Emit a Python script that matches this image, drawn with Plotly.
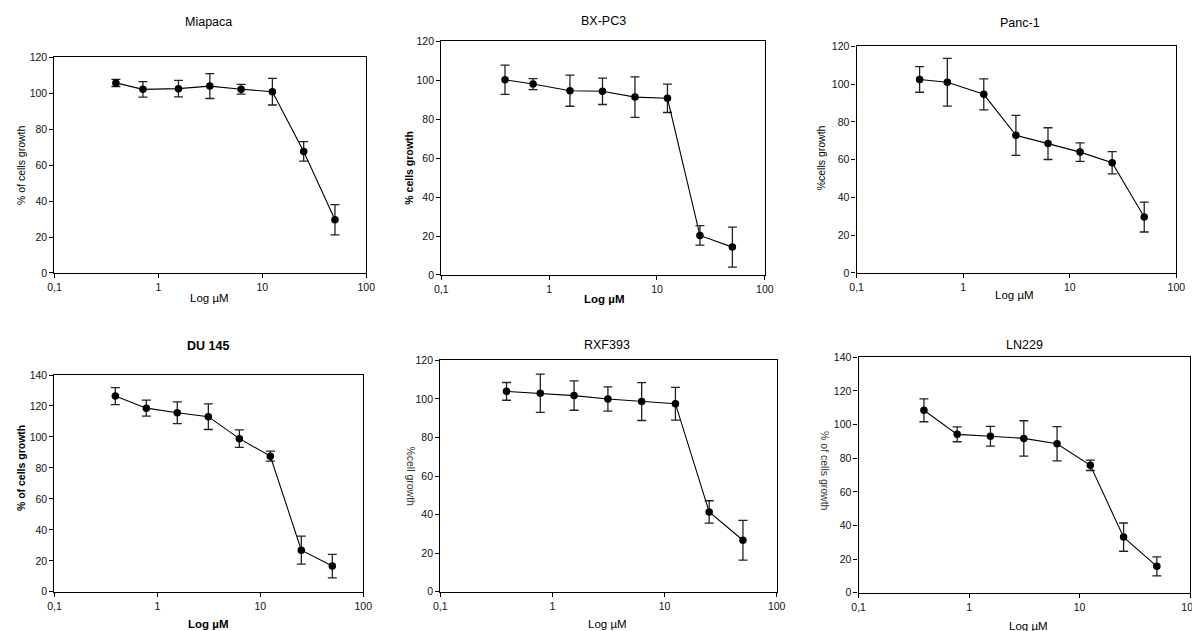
import plotly.graph_objects as go

W, H = 1200, 631

# ---------------- data ----------------
titles = ["Miapaca", "BX-PC3", "Panc-1", "DU 145", "RXF393", "LN229"]

x_top = [0.39, 0.71, 1.56, 3.125, 6.25, 12.5, 25, 50]
x_bot = [0.39, 0.78, 1.56, 3.125, 6.25, 12.5, 25, 50]

miapaca_y = [105.7, 102.1, 102.5, 103.9, 102.2, 100.8, 67.6, 29.6]
miapaca_e = [2.0, 4.3, 4.6, 6.9, 2.7, 7.4, 5.4, 8.4]

bxpc3_y = [100.3, 98.1, 94.7, 94.4, 91.4, 90.8, 20.3, 14.3]
bxpc3_e = [7.5, 2.8, 8.0, 6.8, 10.4, 7.3, 5.0, 10.3]

panc1_y = [102.5, 101.0, 94.6, 72.9, 68.5, 64.0, 58.4, 29.6]
panc1_e = [6.8, 12.6, 8.2, 10.6, 8.4, 4.9, 5.9, 7.9]

du145_y = [126.4, 118.6, 115.6, 113.1, 98.9, 87.6, 26.9, 16.6]
du145_e = [5.5, 5.2, 7.0, 8.3, 5.6, 3.2, 9.0, 7.6]

rxf393_y = [103.9, 102.9, 101.7, 99.9, 98.6, 97.5, 41.4, 26.7]
rxf393_e = [4.6, 9.9, 7.6, 6.3, 9.8, 8.5, 5.8, 10.3]

ln229_y = [108.5, 94.2, 93.1, 91.8, 88.6, 75.8, 33.1, 15.7]
ln229_e = [6.8, 4.4, 5.9, 10.5, 10.2, 3.1, 8.4, 5.6]

x_tickvals = [0.1, 1, 10, 100]
x_ticktext = ["0,1", "1", "10", "100"]
y_max = [120, 120, 120, 140, 120, 140]

y_labels = ["% of cells growth", "% cells growth", "%cells growth",
            "% of cells growth", "%cell growth", "% of cells growth"]
x_label = "Log \u00b5M"

# ---------------- layout geometry (pixels) ----------------
boxes = [  # x0, x1, y0(top), y1(bottom)
    (40, 356, 44, 264),
    (432, 760, 28, 266),
    (853, 1177, 33, 264),
    (40, 353, 368, 589),
    (431, 772, 353, 589),
    (855, 1191, 350, 590),
]

series = [
    (x_top, miapaca_y, miapaca_e),
    (x_top, bxpc3_y, bxpc3_e),
    (x_top, panc1_y, panc1_e),
    (x_bot, du145_y, du145_e),
    (x_bot, rxf393_y, rxf393_e),
    (x_bot, ln229_y, ln229_e),
]

FONT = "Liberation Sans, Arial, sans-serif"

fig = go.Figure()
layout = dict(
    width=W, height=H,
    margin=dict(l=0, r=0, t=0, b=0),
    paper_bgcolor="white", plot_bgcolor="white",
    showlegend=False,
    font=dict(family=FONT, color="black"),
)

for i, ((xs, ys, es), (x0, x1, y0, y1)) in enumerate(zip(series, boxes)):
    n = i + 1
    xa = "x" if n == 1 else f"x{n}"
    ya = "y" if n == 1 else f"y{n}"
    fig.add_trace(go.Scatter(
        x=xs, y=ys, xaxis=xa, yaxis=ya,
        mode="lines+markers",
        line=dict(color="black", width=1.1),
        marker=dict(color="black", size=7.5, symbol="circle"),
        error_y=dict(type="data", array=es, visible=True,
                     color="#222222", thickness=1.3, width=4.5),
        cliponaxis=False,
    ))
    layout[f"xaxis{'' if n == 1 else n}"] = dict(
        domain=[x0 / W, x1 / W], anchor=ya, type="log", range=[-1, 2],
        tickvals=x_tickvals, ticktext=x_ticktext,
        ticks="outside", ticklen=4, tickwidth=1, tickcolor="black",
        showline=True, linecolor="black", linewidth=1.3, mirror=True,
        showgrid=False, zeroline=False,
        tickfont=dict(size=10.5, family=FONT, color="#111"),
    )
    layout[f"yaxis{'' if n == 1 else n}"] = dict(
        domain=[1 - y1 / H, 1 - y0 / H], anchor=xa,
        range=[0, y_max[i]], dtick=20,
        ticks="outside", ticklen=4, tickwidth=1, tickcolor="black",
        showline=True, linecolor="black", linewidth=1.3, mirror=True,
        showgrid=False, zeroline=False,
        tickfont=dict(size=10.5, family=FONT, color="#111"),
    )

fig.update_layout(**layout)


def ann(text, px, py, size=11, bold=False, angle=0, color="black"):
    t = f"<b>{text}</b>" if bold else text
    fig.add_annotation(text=t, x=px / W, y=1 - py / H, xref="paper", yref="paper",
                       showarrow=False, textangle=angle, xanchor="center", yanchor="middle",
                       font=dict(size=size, family=FONT, color=color))


# titles
ann(titles[0], 196, 8, size=12.5)
ann(titles[1], 596, 7, size=12.5)
ann(titles[2], 1019, 9, size=12.5)
ann(titles[3], 196, 338, size=12.5, bold=True)
ann(titles[4], 600, 337, size=12.5)
ann(titles[5], 1023, 337, size=12.5)

# x labels
ann(x_label, 197, 290, size=11.5)
ann(x_label, 597, 291, size=11.5, bold=True)
ann(x_label, 1013, 286, size=11.5)
ann(x_label, 196, 622, size=11.5, bold=True)
ann(x_label, 600, 622, size=11.5)
ann(x_label, 1027, 624, size=11.5)

# y labels
ann(y_labels[0], 6, 154, size=10.5, angle=-90)
ann(y_labels[1], 399, 157, size=10.5, bold=True, angle=-90)
ann(y_labels[2], 817, 147, size=10.5, angle=-90)
ann(y_labels[3], 6, 463, size=10.5, bold=True, angle=-90)
ann(y_labels[4], 401, 471, size=10.5, angle=90, color="#333")
ann(y_labels[5], 821, 466, size=10.5, angle=90, color="#333")

fig.write_html("out.html")
